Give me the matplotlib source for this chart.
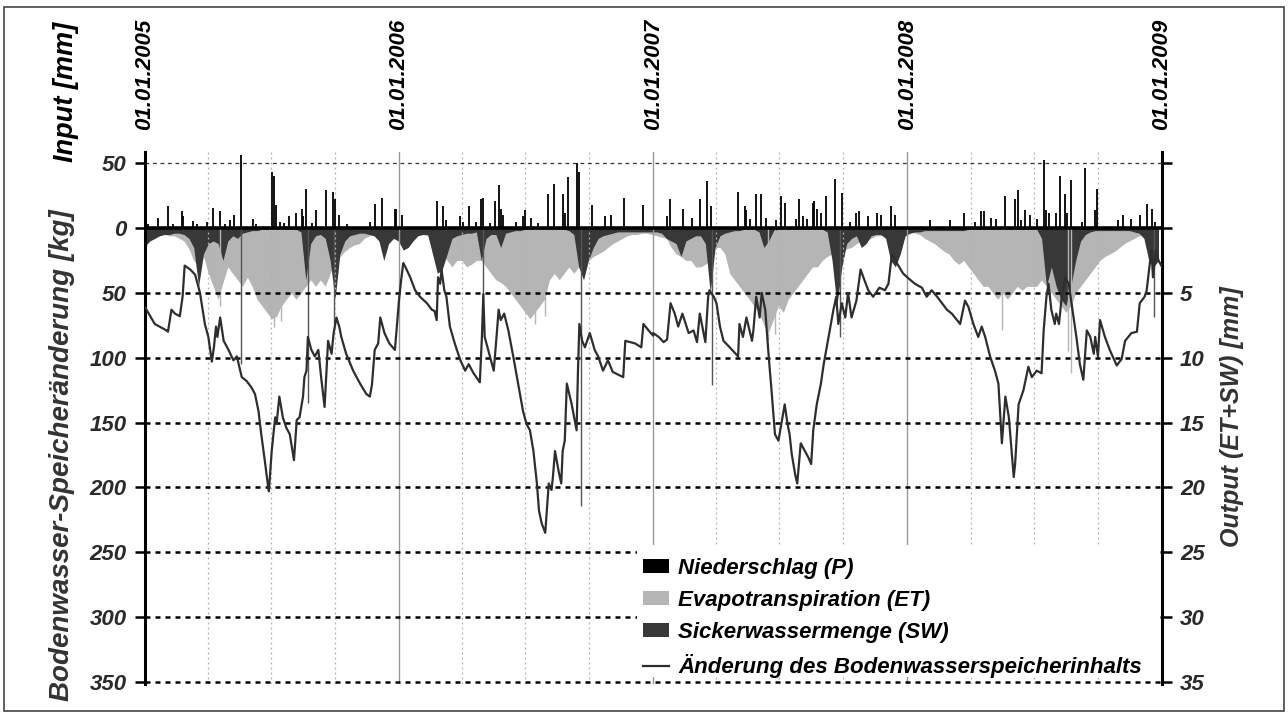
import numpy as np
import matplotlib
matplotlib.use("Agg")
import matplotlib.pyplot as plt
from matplotlib.patches import Patch, Rectangle
from matplotlib.lines import Line2D
from matplotlib.transforms import blended_transform_factory

plt.rcParams['font.family'] = ['Liberation Sans', 'DejaVu Sans']
plt.rcParams['font.weight'] = 'bold'
plt.rcParams['font.style'] = 'italic'

# ---------------- data (day 0 = 01.01.2005) ----------------
year_labels = ['01.01.2005', '01.01.2006', '01.01.2007', '01.01.2008', '01.01.2009']
year_start = [0, 365, 730, 1095, 1461]
quarter_days = [90, 181, 273, 455, 546, 638, 820, 911, 1003, 1186, 1277, 1369]

left_ticks = [-50, 0, 50, 100, 150, 200, 250, 300, 350]
left_ticklabels = ['50', '0', '50', '100', '150', '200', '250', '300', '350']
right_ticks = [-5, 0, 5, 10, 15, 20, 25, 30, 35]
right_ticklabels = ['', '', '5', '10', '15', '20', '25', '30', '35']

series_labels = ['Niederschlag (P)', 'Evapotranspiration (ET)',
                 'Sickerwassermenge (SW)', 'Änderung des Bodenwasserspeicherinhalts']

# storage change [kg] (day of year, value)
stor_2005_day = [0, 14, 31, 33, 38, 43, 50, 54, 57, 65, 72, 79, 86, 91, 96, 99, 102, 104, 108, 113,
                 120, 127, 132, 139, 146, 153, 158, 163, 167, 172, 177, 178, 182, 187, 189, 193, 198,
                 203, 208, 214, 218, 222, 227, 229, 232, 234, 239, 244, 249, 253, 258, 263, 268, 271,
                 275, 279, 282, 289, 299, 309, 318, 323, 326, 330, 335, 338, 344, 351, 359, 362]
stor_2005_kg = [61, 74, 79, 80, 63, 66, 68, 53, 29, 32, 36, 50, 74, 84, 103, 92, 76, 84, 69, 87,
                94, 102, 99, 115, 118, 123, 128, 141, 159, 179, 200, 203, 172, 146, 151, 130, 146,
                154, 159, 179, 148, 146, 130, 115, 110, 84, 94, 99, 94, 115, 138, 87, 97, 81,
                69, 76, 84, 97, 110, 120, 128, 130, 121, 94, 89, 69, 81, 89, 94, 75]
stor_2006_day = [0, 3, 6, 9, 16, 23, 30, 40, 47, 51, 54, 56, 59, 61, 65, 68, 73, 80, 88, 95, 100, 107,
                 116, 119, 121, 123, 128, 136, 140, 143, 146, 151, 157, 164, 171, 178, 183, 188, 193,
                 198, 201, 205, 210, 215, 219, 221, 224, 229, 233, 235, 238, 241, 248, 255, 257, 259,
                 263, 267, 274, 281, 286, 293, 300, 307, 322, 325, 339, 348, 351, 360, 365]
stor_2006_kg = [55, 40, 27, 30, 38, 48, 53, 58, 63, 64, 71, 38, 43, 32, 48, 53, 76, 89, 102, 110, 105, 112,
                119, 84, 51, 84, 94, 110, 84, 63, 71, 66, 79, 99, 120, 141, 151, 156, 172,
                197, 218, 228, 235, 197, 202, 192, 172, 187, 197, 172, 164, 120, 136, 156, 110, 74,
                87, 92, 81, 94, 99, 110, 102, 111, 115, 87, 89, 92, 74, 80, 83]
stor_2007_day = [0, 8, 15, 20, 25, 31, 36, 42, 51, 58, 63, 67, 75, 79, 81, 87, 91, 96, 101, 110, 122,
                 124, 129, 134, 142, 144, 148, 153, 156, 161, 166, 170, 175, 180, 189, 193, 196, 199,
                 204, 207, 212, 218, 223, 227, 230, 235, 241, 245, 252, 259, 263, 266, 271, 276, 280,
                 285, 292, 298, 302, 309, 316, 325, 333, 338, 343, 350, 359, 365]
stor_2007_kg = [81, 84, 88, 86, 58, 66, 76, 66, 81, 79, 88, 66, 88, 53, 48, 53, 58, 76, 87, 92, 99,
                74, 84, 69, 87, 79, 53, 69, 50, 63, 99, 125, 159, 164, 136, 151, 159, 174,
                190, 197, 166, 172, 177, 182, 156, 136, 120, 105, 84, 63, 53, 74, 58, 69, 50,
                69, 56, 32, 38, 48, 53, 46, 48, 43, 20, 27, 35, 38]
stor_2008_day = [0, 11, 21, 28, 35, 43, 50, 57, 64, 76, 83, 88, 95, 102, 107, 112, 119, 126, 131, 136,
                 141, 146, 153, 155, 160, 167, 174, 179, 186, 193, 196, 200, 203, 207, 212, 214, 218,
                 222, 227, 232, 236, 243, 248, 253, 258, 263, 268, 270, 274, 277, 284, 291, 301, 308,
                 313, 322, 330, 334, 341, 344, 349, 351, 353, 357, 361, 366]
stor_2008_kg = [38, 43, 46, 53, 48, 53, 58, 63, 66, 74, 56, 61, 74, 84, 76, 84, 99, 110, 120, 166,
                130, 146, 192, 182, 136, 125, 107, 115, 110, 112, 79, 53, 43, 63, 74, 66, 74,
                53, 38, 43, 58, 84, 105, 117, 79, 84, 97, 84, 99, 71, 84, 94, 106, 101,
                87, 81, 80, 58, 53, 48, 25, 17, 38, 17, 25, 30]

# precipitation [mm] (day of year, value)
prec_2005_day = [5, 19, 33, 40, 53, 55, 69, 75, 89, 98, 108, 115, 122, 128, 138, 155, 160, 182, 186, 188,
                 194, 200, 207, 217, 225, 227, 232, 240, 245, 260, 270, 273, 278, 290, 323, 330, 340, 359, 361]
prec_2005_mm = [3, 7.5, 16.7, 3, 12.8, 9, 5.5, 3, 5, 15.4, 12.8, 3, 6, 10, 56, 7, 3, 43, 40, 18,
                5, 4, 9.4, 11.5, 14.6, 9, 30, 4, 14, 29, 28, 22, 10, 3, 5, 18.8, 23, 14.6, 15]
prec_2006_day = [4, 54, 63, 67, 87, 92, 100, 110, 118, 120, 130, 138, 143, 147, 150, 168, 178, 181, 190,
                 200, 214, 223, 235, 238, 242, 256, 259, 277, 296, 305, 323, 351]
prec_2006_mm = [10, 21, 17, 6, 9, 5, 17, 5, 22, 23, 4, 20.5, 33, 15, 10, 5, 9, 14, 7.5,
                4, 26, 33.6, 26, 11.5, 39, 50, 43, 18, 9.4, 10, 23, 18]
prec_2007_day = [20, 24, 43, 56, 67, 78, 83, 122, 132, 134, 139, 148, 155, 162, 177, 184, 190, 205, 210,
                 215, 221, 229, 231, 235, 241, 248, 261, 271, 283, 292, 296, 309, 321, 328, 341, 347]
prec_2007_mm = [9, 22, 14.6, 7.5, 22.4, 36, 17, 28, 17, 14, 7, 26, 26, 7.5, 6, 24.5, 19, 7, 22,
                9, 7, 19, 20.5, 15, 11.5, 25, 38, 27, 5, 11.5, 12.8, 9, 11.5, 10, 17, 10]
prec_2008_day = [33, 62, 81, 98, 106, 110, 121, 127, 140, 155, 159, 164, 169, 177, 186, 196, 200, 204,
                 214, 220, 227, 230, 235, 251, 256, 270, 273, 303, 310, 322, 334, 344, 351, 356]
prec_2008_mm = [6, 6, 11.5, 5, 13, 13, 8, 7, 24.5, 22, 29, 6, 14, 10, 7, 52.6, 14, 11.5,
                11.5, 40, 26, 11.5, 36.7, 5, 46.6, 14, 29.7, 6, 10, 7, 10, 18.5, 14.6, 5]

# evapotranspiration [mm], weekly (week index within the year)
et_2005_mm = [0.4, 0.4, 0.5, 0.5, 0.5, 0.6, 0.6, 0.8, 1.0, 1.6, 2.5, 3.0, 2.2, 3.5, 4.5, 5.5, 4.2,
              3.0, 3.5, 4.0, 4.5, 3.8, 4.5, 5.5, 6.0, 6.5, 7.0, 6.8, 6.0, 5.5, 5.0, 5.5, 5.0, 4.5, 4.0,
              4.5, 4.0, 4.5, 3.5, 2.5, 2.2, 1.8, 1.5, 1.3, 1.2, 0.8, 0.6, 0.5, 0.5, 0.4, 0.4, 0.4]
et_2006_mm = [0.4, 0.4, 0.5, 0.5, 0.5, 0.5, 0.6, 0.8, 1.5, 2.0, 2.5, 3.0, 2.5, 2.5, 3.0, 2.8, 2.5,
              2.5, 3.0, 3.5, 4.0, 4.2, 4.5, 5.0, 5.5, 6.0, 6.5, 7.0, 6.5, 6.0, 5.5, 4.0, 3.5, 4.0, 3.5,
              3.0, 3.5, 3.0, 2.5, 2.5, 2.2, 2.0, 1.8, 1.5, 1.2, 1.0, 0.8, 0.6, 0.5, 0.5, 0.4, 0.4]
et_2007_mm = [0.5, 0.6, 0.7, 0.8, 1.5, 2.0, 2.2, 2.5, 2.5, 3.0, 3.0, 2.8, 2.5, 1.5, 1.5, 2.0, 3.5,
              4.0, 4.5, 5.0, 5.5, 6.0, 6.5, 7.5, 8.0, 7.0, 6.0, 6.5, 5.5, 5.0, 4.5, 4.0, 3.5, 3.0, 3.0,
              2.5, 2.2, 2.0, 2.0, 1.8, 1.6, 1.5, 1.2, 1.0, 1.0, 0.8, 0.6, 0.6, 0.5, 0.4, 0.4, 0.4]
et_2008_mm = [0.3, 0.3, 0.4, 0.5, 0.8, 1.0, 1.2, 1.5, 1.8, 2.0, 2.5, 2.8, 2.5, 3.0, 3.5, 4.0, 4.5,
              4.5, 5.0, 5.5, 5.0, 5.5, 5.0, 4.5, 4.8, 4.5, 4.5, 4.5, 4.0, 4.5, 5.0, 5.5, 6.0, 6.5, 6.0,
              5.0, 4.5, 4.0, 3.5, 3.0, 2.5, 2.2, 2.0, 1.8, 1.5, 1.2, 1.0, 0.8, 0.6, 0.5, 0.4, 0.4, 0.3]
et_peak_day = [108, 185, 196, 560, 575, 895, 905, 1231, 1326, 1330]
et_peak_mm = [6.0, 7.6, 7.2, 7.4, 6.8, 8.6, 8.2, 7.9, 9.5, 11.2]

# seepage water [mm], weekly
sw_2005_mm = [1.4, 1.0, 0.8, 0.6, 0.5, 0.5, 0.4, 0.4, 0.5, 0.8, 1.5, 4.5, 2.0, 1.2, 1.0, 1.2, 2.5,
              1.0, 0.6, 0.8, 0.4, 0.3, 0.2, 0.2, 0.1, 0.1, 0.1, 0.1, 0.1, 0.1, 0.1, 0.1, 0.3, 4.0, 1.2,
              0.6, 0.5, 0.8, 2.5, 5.5, 2.0, 1.0, 0.6, 0.5, 0.4, 0.4, 0.5, 0.6, 1.0, 2.5, 1.2, 0.8]
sw_2006_mm = [1.0, 1.7, 1.5, 1.0, 0.6, 0.5, 0.5, 2.0, 3.5, 3.2, 2.0, 0.8, 0.6, 0.5, 0.4, 0.4, 0.3,
              2.5, 0.8, 0.5, 0.5, 1.5, 0.4, 0.3, 0.2, 0.2, 0.1, 0.1, 0.1, 0.1, 0.1, 0.1, 0.1, 0.1, 0.1,
              0.2, 0.5, 3.0, 4.0, 2.5, 1.5, 0.8, 0.6, 0.5, 0.4, 0.3, 0.3, 0.3, 0.3, 0.3, 0.3, 0.3]
sw_2007_mm = [0.3, 0.3, 0.4, 0.8, 1.0, 1.2, 2.2, 1.0, 0.8, 0.6, 0.6, 1.2, 5.0, 1.5, 0.6, 0.4, 0.3,
              0.2, 0.2, 0.1, 0.1, 0.1, 0.3, 1.5, 1.0, 0.2, 0.1, 0.1, 0.1, 0.1, 0.1, 0.1, 0.1, 0.1, 0.1,
              0.1, 0.3, 2.5, 6.0, 3.0, 1.2, 0.8, 0.6, 1.5, 1.2, 0.6, 0.5, 0.5, 0.8, 2.5, 3.0, 2.0]
sw_2008_mm = [0.6, 0.4, 0.3, 0.3, 0.2, 0.2, 0.2, 0.2, 0.2, 0.2, 0.2, 0.2, 0.2, 0.1, 0.1, 0.1, 0.1,
              0.1, 0.1, 0.1, 0.1, 0.1, 0.1, 0.1, 0.1, 0.1, 0.1, 0.1, 0.8, 4.5, 3.0, 4.5, 5.5, 6.0, 4.5,
              2.5, 1.0, 0.5, 0.3, 0.2, 0.2, 0.2, 0.2, 0.2, 0.2, 0.2, 0.2, 0.3, 0.4, 0.8, 2.5, 3.0, 2.5]
sw_peak_day = [138, 234, 272, 485, 627, 815, 998, 1449]
sw_peak_mm = [10.5, 13.5, 7.4, 5.5, 21.4, 12.1, 8.4, 6.9]

# ---------------- assemble ----------------
stor_day = np.concatenate([np.array(d) + o for d, o in zip(
    [stor_2005_day, stor_2006_day, stor_2007_day, stor_2008_day], year_start[:4])])
stor_kg = np.concatenate([stor_2005_kg, stor_2006_kg, stor_2007_kg, stor_2008_kg])
prec_day = np.concatenate([np.array(d) + o for d, o in zip(
    [prec_2005_day, prec_2006_day, prec_2007_day, prec_2008_day], year_start[:4])])
prec_mm = np.concatenate([prec_2005_mm, prec_2006_mm, prec_2007_mm, prec_2008_mm])
et_mm = np.concatenate([et_2005_mm, et_2006_mm, et_2007_mm, et_2008_mm])
sw_mm = np.concatenate([sw_2005_mm, sw_2006_mm, sw_2007_mm, sw_2008_mm])
week_day = np.arange(len(et_mm)) * 7

# ---------------- figure ----------------
W, H = 1288, 713
fig = plt.figure(figsize=(W / 100, H / 100), dpi=100)
rect = [145 / W, 1 - 684 / H, (1162 - 145) / W, (684 - 152) / H]
ax = fig.add_axes(rect)
ax2 = ax.twinx()
ax.set_zorder(2)
ax2.set_zorder(1)
ax.patch.set_visible(False)

ymin_kg, ymax_kg = -58.6, 351.6
ax.set_ylim(ymax_kg, ymin_kg)
ax2.set_ylim(ymax_kg / 10, ymin_kg / 10)
ax.set_xlim(0, 1461)
ax2.set_xlim(0, 1461)

et_col = '#b5b5b5'
sw_col = '#383838'
line_col = '#2e2e2e'
txt_col = '#2a2a2a'

# ET and SW (output, mm, right axis)
ax2.fill_between(week_day, 0, et_mm, color=et_col, lw=0)
ax2.vlines(et_peak_day, 0, et_peak_mm, color=et_col, lw=1.0)
ax2.fill_between(week_day, 0, sw_mm, color=sw_col, lw=0)
ax2.vlines(sw_peak_day, 0, sw_peak_mm, color='#555555', lw=1.0)

# grid
trans_x = blended_transform_factory(ax.transData, ax.transAxes)
for q in quarter_days:
    ax.axvline(q, color='#b0b0b0', lw=0.9, ls=(0, (1.5, 2.5)), zorder=1)
for ys in year_start[1:4]:
    ax.axvline(ys, color='#999999', lw=1.0, zorder=1)
ax.axhline(-50, color='#333333', lw=0.9, ls=(0, (3, 3)), zorder=1)
for v in left_ticks[2:]:
    ax.axhline(v, color='black', lw=1.8, ls=(0, (2, 2)), zorder=1)

# precipitation (input, upward)
ax.vlines(prec_day, 0, -prec_mm, color='black', lw=1.3, zorder=3)
ax.axhline(0, color='black', lw=2.6, zorder=4)

# storage change line
ax.plot(stor_day, stor_kg, color=line_col, lw=1.6, zorder=5)

# spines and ticks
for s in ['top', 'bottom', 'right']:
    ax.spines[s].set_visible(False)
for s in ['top', 'bottom', 'left']:
    ax2.spines[s].set_visible(False)
ax.spines['left'].set_linewidth(2.2)
ax2.spines['right'].set_linewidth(2.2)
ax.set_xticks([])
ax2.set_xticks([])
ax.set_yticks(left_ticks)
ax.set_yticklabels(left_ticklabels)
ax2.set_yticks(right_ticks)
ax2.set_yticklabels(right_ticklabels)
ax.tick_params(axis='y', direction='out', length=7, width=1.8, labelsize=16, pad=6,
               labelcolor=txt_col)
ax2.tick_params(axis='y', direction='out', length=7, width=1.8, labelsize=16, pad=6,
                labelcolor=txt_col)

# year labels on top
for d, lab in zip(year_start, year_labels):
    ax.text(d, 1 + 22 / 532, lab, transform=trans_x, rotation=90, ha='center', va='bottom',
            fontsize=16, color='black')

# axis titles
fig.text(66 / W, 1 - 92 / H, 'Input [mm]', rotation=90, ha='center', va='center',
         fontsize=19.5, color='black')
fig.text(62 / W, 1 - 455 / H, 'Bodenwasser-Speicheränderung [kg]', rotation=90, ha='center',
         va='center', fontsize=20, color='#333333')
fig.text(1232 / W, 1 - 417 / H, 'Output (ET+SW) [mm]', rotation=90, ha='center', va='center',
         fontsize=18, color='#333333')

# white legend background (covers grid between 250 and 300, keeps 350 line)
ax.add_patch(Rectangle((0.4838, 0.0132), 0.5142, 0.2478, transform=ax.transAxes,
                       facecolor='white', edgecolor='none', zorder=8))

# legend
handles = [Patch(facecolor='black', edgecolor='none'),
           Patch(facecolor=et_col, edgecolor='none'),
           Patch(facecolor=sw_col, edgecolor='none'),
           Line2D([], [], color=line_col, lw=1.6)]
leg = ax.legend(handles, series_labels, loc='lower left', bbox_to_anchor=(0.484, 0.0007),
                frameon=False, fontsize=16, handlelength=1.2, handleheight=0.55,
                handletextpad=0.4, labelspacing=0.5, borderpad=0.25, borderaxespad=0)
leg.set_zorder(10)

# figure border
fig.add_artist(Rectangle((4 / W, 2 / H), 1280 / W, 704 / H, transform=fig.transFigure,
                         fill=False, lw=1.2, edgecolor='#444444'))

fig.savefig('out.png', dpi=100)
